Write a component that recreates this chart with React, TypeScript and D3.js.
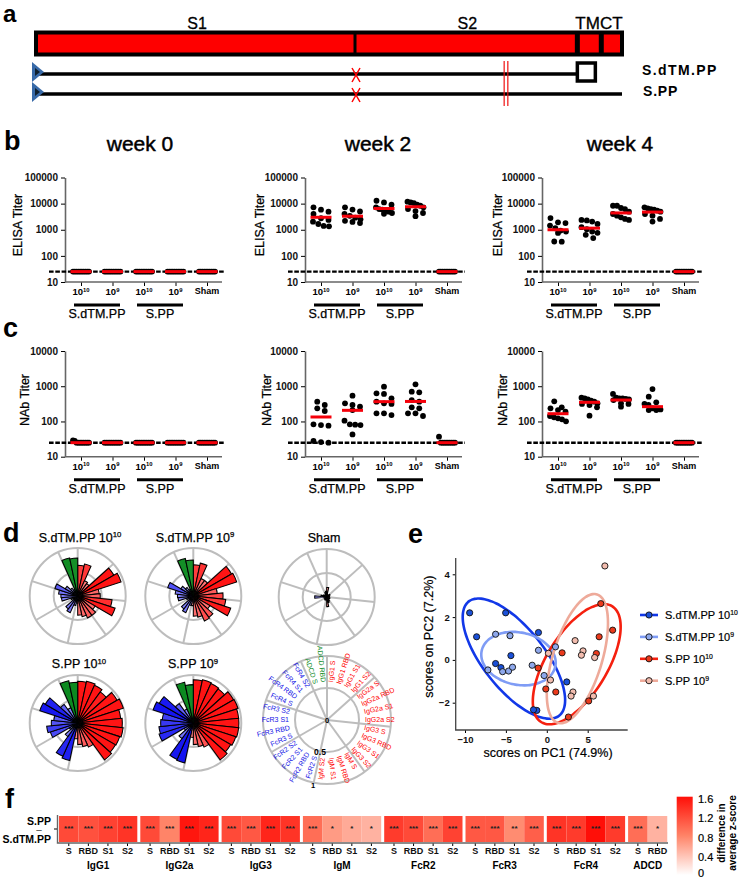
import React, { useEffect, useRef } from "react";
import * as d3 from "d3";

const FONT = "'Liberation Sans', Arial, sans-serif";

// panel a, residues of the spike
const spikeLength = 1273;
const domainBreaks = [693, 1176, 1228];
const ppSites = [1017, 1025];
const spikeLabels = [
  { text: "S1", at: 350 },
  { text: "S2", at: 937 },
  { text: "TMCT", at: 1223 },
];

// panels b, c
const doses = [["10", "10"], ["10", "9"], ["10", "10"], ["10", "9"], ["Sham", ""]];
const atFloor = [25, 25, 25, 25, 25, 25, 25, 25, 25, 25];

const elisaWeek0 = [atFloor, atFloor, atFloor, atFloor, atFloor];
const elisaWeek2 = [
  [7200, 5880, 4900, 4000, 2750, 2370, 2040, 1660, 1400, 1350],
  [7200, 5900, 5000, 4000, 3400, 2900, 2500, 2200, 2000, 1800],
  [12900, 11100, 9100, 7200, 6200, 5900, 5400, 4900, 4370, 4100],
  [11900, 11100, 10500, 9100, 8300, 7200, 6200, 5200, 4370, 3300],
  atFloor,
];
const elisaWeek4 = [
  [2800, 1930, 1800, 1440, 1140, 930, 850, 757, 355, 350],
  [2370, 2270, 2050, 1670, 1250, 1050, 850, 760, 640, 480],
  [8300, 8300, 6800, 6200, 4900, 4000, 3450, 3000, 2600, 2370],
  [7200, 6600, 6200, 5900, 5400, 4900, 4000, 3450, 2600, 2050],
  atFloor,
];
const nabWeek0 = [[29, 28, 25, 25, 25, 25, 25, 25, 25, 25], atFloor, atFloor, atFloor, atFloor];
const nabWeek2 = [
  [365, 293, 236, 198, 83, 79, 76, 28, 26, 25],
  [540, 327, 293, 263, 211, 105, 83, 81, 79, 43],
  [973, 630, 604, 454, 365, 327, 314, 170, 170, 152],
  [1130, 700, 670, 406, 365, 252, 236, 170, 170, 143],
  [37, 25, 25, 25, 25, 25, 25, 25, 25, 25],
];
const nabWeek4 = [
  [372, 252, 236, 211, 190, 143, 131, 123, 115, 101],
  [473, 454, 425, 389, 365, 327, 314, 293, 252, 146],
  [604, 473, 454, 454, 435, 425, 406, 327, 314, 263],
  [833, 506, 349, 314, 293, 236, 225, 220, 211, 211],
  atFloor,
];
const elisaMedians = [
  [25, 25, 25, 25, 25],
  [3000, 3300, 6500, 7600, 25],
  [1000, 1150, 4400, 4750, 25],
];
const nabMedians = [
  [25, 25, 25, 25, 25],
  [134, 207, 365, 370, 25],
  [166, 350, 406, 263, 25],
];
const weeks = ["week 0", "week 2", "week 4"];

// panel d, 30 features clockwise from the top, radius 0..1
const roseDtm10 = [0.64, 0.68, 0.35, 0.32, 0.87, 0.95, 0.45, 0.47, 0.72, 0.82, 0.42, 0.5, 0.5, 0.44, 0.4, 0.15, 0.2, 0.38, 0.33, 0.1, 0.15, 0.34, 0.35, 0.4, 0.5, 0.3, 0.2, 0.15, 0.81, 0.79];
const roseDtm9 = [0.65, 0.7, 0.4, 0.4, 0.92, 0.95, 0.5, 0.62, 0.68, 0.82, 0.4, 0.55, 0.57, 0.45, 0.42, 0.2, 0.2, 0.38, 0.33, 0.1, 0.15, 0.32, 0.33, 0.38, 0.56, 0.3, 0.22, 0.15, 0.8, 0.75];
const roseSham = [0.2, 0.06, 0.05, 0.04, 0.08, 0.05, 0.04, 0.06, 0.05, 0.07, 0.05, 0.06, 0.1, 0.12, 0.2, 0.06, 0.05, 0.07, 0.04, 0.05, 0.04, 0.06, 0.25, 0.12, 0.08, 0.05, 0.05, 0.06, 0.1, 0.12];
const rosePp10 = [0.87, 0.89, 0.86, 0.8, 0.95, 1.0, 0.9, 0.93, 0.95, 0.92, 0.91, 0.95, 0.55, 0.5, 0.45, 0.33, 0.8, 0.76, 0.35, 0.2, 0.6, 0.65, 0.55, 0.5, 0.83, 0.78, 0.48, 0.35, 0.9, 0.85];
const rosePp9 = [0.9, 0.92, 0.9, 0.88, 0.97, 0.98, 0.95, 0.95, 0.95, 0.93, 0.9, 0.95, 0.55, 0.5, 0.45, 0.3, 0.85, 0.83, 0.4, 0.22, 0.75, 0.72, 0.68, 0.65, 0.88, 0.82, 0.5, 0.32, 0.87, 0.8];
const spokeAngles = [0, 48, 96, 144, 192, 240, 288, 336];
const antigens = ["S", "RBD", "S1", "S2"];
const featureGroups = ["IgG1", "IgG2a", "IgG3", "IgM", "FcR2", "FcR3", "FcR4", "ADCD"];
const groupAntigens = (g: string) => (g === "ADCD" ? ["S", "RBD"] : antigens);

// panel e
const pc1 = {
  dtm10: [-9.43, -5.03, -8.58, -1.02, -4.39, -6.26, -5.61, -1.22, -1.63, 2.44],
  dtm9: [-7.2, -6.26, -4.5, -5.4, -4.67, -4.19, -1.79, -1.02, -0.33, 1.06],
  pp10: [6.6, 8.05, 6.4, 6.06, 1.87, -1.06, -0.12, 1.1, 5.12, 2.64],
  pp9: [7.1, 3.46, 4.43, 4.23, 5.85, 0.2, 0.45, 3.2, 2.97, 5.7],
};
const pc2 = {
  dtm10: [2.2, 2.2, 1.08, 1.28, 0.2, -0.17, -0.36, -2.36, -2.33, -1.03],
  dtm9: [-0.47, 1.2, 1.13, -0.55, -0.52, -0.34, -0.25, 0.45, -0.73, 0.61],
  pp10: [2.63, 1.39, 1.08, 0.3, 0.33, -0.38, -1.36, -1.5, -1.92, -2.67],
  pp9: [4.39, 0.9, 0.42, 0.22, 0.11, 0.31, -0.94, -1.5, -1.69, -1.69],
};
const scoreGroups = [
  { key: "dtm10", name: "S.dTM.PP", exp: "10", line: "#1238e8", dot: "#1a50d8", ell: [-4.02, 6.26, 0.06, 2.81, -0.69] },
  { key: "dtm9", name: "S.dTM.PP", exp: "9", line: "#7f9cf5", dot: "#8ea8ec", ell: [-3.46, 4.55, 0.06, 1.25, -0.15] },
  { key: "pp10", name: "S.PP", exp: "10", line: "#f5200f", dot: "#ea3a1c", ell: [3.66, 5.37, -0.2, 2.81, 0.62] },
  { key: "pp9", name: "S.PP", exp: "9", line: "#eeaa9a", dot: "#f2bcae", ell: [3.74, 3.74, 0.06, 3.02, 0.55] },
];

// panel f
const zDiff: Record<string, number[]> = {
  IgG1: [1.2, 1.15, 1.25, 1.35],
  IgG2a: [1.2, 0.8, 1.55, 1.45],
  IgG3: [1.2, 1.1, 1.45, 1.35],
  IgM: [0.95, 0.65, 0.55, 0.5],
  FcR2: [1.3, 1.2, 0.95, 1.25],
  FcR3: [1.1, 1.1, 0.75, 1.05],
  FcR4: [1.35, 1.3, 1.6, 1.3],
  ADCD: [0.95, 0.5],
};
const zStars: Record<string, string[]> = {
  IgG1: ["***", "***", "***", "***"],
  IgG2a: ["***", "***", "***", "***"],
  IgG3: ["***", "***", "***", "***"],
  IgM: ["***", "*", "*", "*"],
  FcR2: ["***", "***", "***", "***"],
  FcR3: ["***", "***", "**", "***"],
  FcR4: ["***", "***", "***", "***"],
  ADCD: ["***", "*"],
};
const zTicks = [0, 0.4, 0.8, 1.2, 1.6];

type Sel = d3.Selection<any, any, any, any>;

function label(parent: Sel, x: number, y: number, text: string, size: number, opts: any = {}) {
  const t = parent
    .append("text")
    .attr("x", x)
    .attr("y", y)
    .attr("font-size", size)
    .attr("font-family", FONT)
    .attr("font-weight", opts.weight || 400)
    .attr("text-anchor", opts.anchor || "start")
    .attr("fill", opts.fill || "#000")
    .text(text);
  if (opts.spacing) t.attr("letter-spacing", opts.spacing);
  if (opts.heavy) t.attr("stroke", opts.fill || "#000").attr("stroke-width", opts.heavy);
  if (opts.rotate !== undefined) t.attr("transform", `rotate(${opts.rotate} ${x} ${y})`);
  return t;
}

function supLabel(parent: Sel, x: number, y: number, base: string, exp: string, size: number, opts: any = {}) {
  const t = label(parent, x, y, "", size, opts);
  t.append("tspan").text(base);
  t.append("tspan").attr("dy", -size * 0.35).attr("font-size", size * 0.62).text(exp);
  return t;
}

// Prism style binned swarm
function swarm(vals: number[], y: (v: number) => number) {
  const sorted = vals.slice().sort((a, b) => b - a);
  const bins: number[][] = [];
  sorted.forEach((v) => {
    const last = bins[bins.length - 1];
    if (last && Math.abs(y(v) - y(last[0])) < 6) last.push(v);
    else bins.push([v]);
  });
  const out: { v: number; dx: number }[] = [];
  bins.forEach((b) => {
    const step = b.length > 1 ? Math.min(7.5, 16 / (b.length - 1)) : 0;
    b.forEach((v, i) => out.push({ v, dx: (i - (b.length - 1) / 2) * step }));
  });
  return out;
}

function titerPlot(svg: Sel, cfg: any) {
  const { x0, top, bottom, ticks, series, medians, yTitle, titleX, titleY, dashL } = cfg;
  const y = d3.scaleLog().domain([10, ticks[ticks.length - 1]]).range([bottom, top]);
  const x = d3.scalePoint<number>().domain([0, 1, 2, 3, 4]).range([x0 + 16, x0 + 142]);
  const g = svg.append("g");

  const yAxis = g
    .append("g")
    .attr("transform", `translate(${x0},0)`)
    .call(d3.axisLeft(y).tickValues(ticks).tickFormat(d3.format("d") as any).tickSize(4).tickSizeOuter(0));
  yAxis.select(".domain").attr("stroke", "#666").attr("stroke-width", 1.6);
  yAxis.selectAll("text").attr("font-family", FONT).attr("font-size", 10).attr("font-weight", 700).attr("fill", "#111");

  const xAxis = g
    .append("g")
    .attr("transform", `translate(0,${bottom})`)
    .call(d3.axisBottom(x).tickSize(4).tickFormat(() => ""));
  xAxis.select(".domain").remove();
  xAxis.selectAll("text").remove();
  g.append("line").attr("x1", x0).attr("x2", x0 + 157).attr("y1", bottom).attr("y2", bottom).attr("stroke", "#666").attr("stroke-width", 1.6);

  doses.forEach((d, i) => {
    if (d[1]) supLabel(g, x(i)!, bottom + 13, d[0], d[1], 9.5, { anchor: "middle", weight: 700 });
    else label(g, x(i)!, bottom + 12, d[0], 9, { anchor: "middle", weight: 700 });
  });

  g.append("line")
    .attr("x1", x0 - dashL)
    .attr("x2", x0 + 160)
    .attr("y1", y(25))
    .attr("y2", y(25))
    .attr("stroke", "#000")
    .attr("stroke-width", 2.4)
    .attr("stroke-dasharray", "4.6 1.7");

  series.forEach((vals: number[], i: number) => {
    g.append("g")
      .selectAll("circle")
      .data(swarm(vals, y))
      .enter()
      .append("circle")
      .attr("cx", (d) => x(i)! + d.dx)
      .attr("cy", (d) => y(d.v))
      .attr("r", 2.9)
      .attr("fill", "#000");
    g.append("line")
      .attr("x1", x(i)! - 10.5)
      .attr("x2", x(i)! + 10.5)
      .attr("y1", y(medians[i]))
      .attr("y2", y(medians[i]))
      .attr("stroke", "#f5000a")
      .attr("stroke-width", 3);
  });

  [[9, 55, "S.dTM.PP"], [72, 118, "S.PP"]].forEach(([a, b, name]: any) => {
    g.append("line").attr("x1", x0 + a).attr("x2", x0 + b).attr("y1", bottom + 23).attr("y2", bottom + 23).attr("stroke", "#000").attr("stroke-width", 3);
    label(g, x0 + (a + b) / 2, bottom + 36, name, 12.5, { anchor: "middle", heavy: 0.25 });
  });

  label(g, titleX, titleY, yTitle, 12.5, { anchor: "middle", rotate: -90, heavy: 0.25 });
}

function rose(svg: Sel, cx: number, cy: number, R: number, values: number[] | null) {
  const g = svg.append("g").attr("transform", `translate(${cx},${cy})`);
  const r = d3.scaleLinear().domain([0, 1]).range([0, R]);
  [0.5, 1].forEach((c) =>
    g.append("circle").attr("r", r(c)).attr("fill", "none").attr("stroke", "#bdbdbd").attr("stroke-width", 2)
  );
  spokeAngles.forEach((a) => {
    const [px, py] = d3.pointRadial((a * Math.PI) / 180, R);
    g.append("line").attr("x2", px).attr("y2", py).attr("stroke", "#bdbdbd").attr("stroke-width", 2);
  });
  if (!values) return g;
  const step = (2 * Math.PI) / values.length;
  const arc = d3.arc<number>();
  const shade = (base: string, pale: string) => d3.scaleLinear<string>().domain([0, 0.85]).range([pale, base]).clamp(true);
  const redShade = shade("#ff1414", "#ffc4c4");
  const blueShade = shade("#1414f0", "#c8c8ff");
  const greenShade = shade("#0c8a20", "#90d090");
  g.selectAll("path.bar")
    .data(values)
    .enter()
    .append("path")
    .attr("class", "bar")
    .attr("d", (d, i) =>
      arc({ innerRadius: 0, outerRadius: r(d), startAngle: i * step, endAngle: (i + 1) * step } as any)
    )
    .attr("fill", (d, i) => (i < 16 ? redShade(d) : i < 28 ? blueShade(d) : greenShade(d)))
    .attr("stroke", "#000")
    .attr("stroke-width", 1.05);
  return g;
}

export default function App() {
  const ref = useRef<SVGSVGElement>(null);

  useEffect(() => {
    const svg = d3.select(ref.current!) as Sel;
    svg.selectAll("*").remove();

    // panel letters
    [["a", 3, 22, 24], ["b", 4, 150, 27], ["c", 3, 337, 27], ["d", 3, 542, 27], ["e", 408, 543, 27], ["f", 5, 808, 27]].forEach(([t, x, y, s]: any) =>
      label(svg, x, y, t, s, { weight: 700 })
    );

    // a
    const aa = d3.scaleLinear().domain([0, spikeLength]).range([36, 622]);
    spikeLabels.forEach((s) => label(svg, aa(s.at), 28.5, s.text, s.text === "TMCT" ? 17 : 16, { anchor: "middle", heavy: 0.3 }));
    svg.append("rect").attr("x", aa(0)).attr("y", 32.5).attr("width", aa(spikeLength) - aa(0)).attr("height", 22).attr("fill", "#fe0000").attr("stroke", "#000").attr("stroke-width", 4);
    domainBreaks.forEach((b, i) =>
      svg.append("line").attr("x1", aa(b)).attr("x2", aa(b)).attr("y1", 32).attr("y2", 55).attr("stroke", "#000").attr("stroke-width", i ? 5 : 3)
    );
    svg.append("line").attr("x1", 38).attr("x2", aa(1176)).attr("y1", 74).attr("y2", 74).attr("stroke", "#000").attr("stroke-width", 3.5);
    svg.append("rect").attr("x", aa(1176)).attr("y", 63).attr("width", 18).attr("height", 18).attr("fill", "#fff").attr("stroke", "#000").attr("stroke-width", 3.5);
    svg.append("line").attr("x1", 38).attr("x2", aa(spikeLength)).attr("y1", 94).attr("y2", 94).attr("stroke", "#000").attr("stroke-width", 3.5);
    [72, 92].forEach((cy) => {
      svg.append("path").attr("d", `M32 ${cy - 10}L44 ${cy}L32 ${cy + 10}Z`).attr("fill", "#386aa8");
      svg.append("path").attr("d", `M35 ${cy - 4}L40 ${cy}L35 ${cy + 4}Z`).attr("fill", "#10202e");
    });
    [75, 95].forEach((cy) => {
      const xc = aa(domainBreaks[0]) + 1;
      svg.append("path").attr("d", `M${xc - 4} ${cy - 7}L${xc + 4} ${cy + 7}M${xc + 4} ${cy - 7}L${xc - 4} ${cy + 7}`).attr("stroke", "#f00").attr("stroke-width", 1.5).attr("fill", "none");
    });
    ppSites.forEach((p) =>
      svg.append("line").attr("x1", aa(p)).attr("x2", aa(p)).attr("y1", 61).attr("y2", 106).attr("stroke", "#f01010").attr("stroke-width", 1.2)
    );
    label(svg, 642, 75, "S.dTM.PP", 14, { weight: 700, spacing: 1.4 });
    label(svg, 643, 96, "S.PP", 14, { weight: 700, spacing: 0.8 });

    // b, c
    const axisXs = [65, 305, 542];
    const weekX = [140, 378, 620];
    const elisa = [elisaWeek0, elisaWeek2, elisaWeek4];
    const nab = [nabWeek0, nabWeek2, nabWeek4];
    const elisaTitleX = [22, 264, 502];
    const nabTitleX = [29, 271, 507];
    const dashLs = [16, 17, 15];
    axisXs.forEach((x0, i) => {
      label(svg, weekX[i], 151, weeks[i], 21, { anchor: "middle", heavy: 0.45 });
      titerPlot(svg, {
        x0, top: 177.5, bottom: 282, ticks: [10, 100, 1000, 10000, 100000],
        series: elisa[i], medians: elisaMedians[i], yTitle: "ELISA Titer",
        titleX: elisaTitleX[i], titleY: 225, dashL: dashLs[i],
      });
      titerPlot(svg, {
        x0, top: 351, bottom: 456.7, ticks: [10, 100, 1000, 10000],
        series: nab[i], medians: nabMedians[i], yTitle: "NAb Titer",
        titleX: nabTitleX[i], titleY: 400, dashL: dashLs[i],
      });
    });

    // d
    supLabel(svg, 80, 541.5, "S.dTM.PP 10", "10", 12.5, { anchor: "middle", heavy: 0.25 });
    supLabel(svg, 195, 541.5, "S.dTM.PP 10", "9", 12.5, { anchor: "middle", heavy: 0.25 });
    label(svg, 324, 541.5, "Sham", 12.5, { anchor: "middle", heavy: 0.25 });
    supLabel(svg, 79, 668, "S.PP 10", "10", 12.5, { anchor: "middle", heavy: 0.25 });
    supLabel(svg, 193, 668, "S.PP 10", "9", 12.5, { anchor: "middle", heavy: 0.25 });
    rose(svg, 77.7, 596, 48, roseDtm10);
    rose(svg, 193.3, 596, 48, roseDtm9);
    rose(svg, 326.7, 597, 48, roseSham);
    rose(svg, 77.7, 723, 48, rosePp10);
    rose(svg, 193.3, 723, 48, rosePp9);
    const key = rose(svg, 327, 720, 64, null);
    const featureNames = featureGroups.flatMap((g) => groupAntigens(g).map((a) => `${g} ${a}`));
    featureNames.forEach((name, i) => {
      const deg = (i + 0.5) * 12;
      const fill = i < 16 ? "#f00" : i < 28 ? "#1414e6" : "#0a8a1e";
      const right = deg < 180;
      key.append("text")
        .attr("transform", right ? `rotate(${deg - 90}) translate(38,2)` : `rotate(${deg + 90}) translate(-38,2)`)
        .attr("text-anchor", right ? "start" : "end")
        .attr("font-size", 7)
        .attr("font-family", FONT)
        .attr("fill", fill)
        .text(name);
    });
    [["0", 0, 2.5, 7.5], ["0.5", -7, 35, 8.5], ["1", -14, 68, 7.5]].forEach(([t, x, y, s]: any) =>
      label(key, x, y, t, s, { anchor: "middle", weight: 700 })
    );

    // e
    const px = d3.scaleLinear().domain([-10, 5]).range([465, 587.7]);
    const py = d3.scaleLinear().domain([-2, 4]).range([702.7, 574.3]);
    const axE = svg.append("g");
    const intFmt = d3.format("d") as any;
    const xE = axE.append("g").attr("transform", "translate(0,730)").call(d3.axisBottom(px).tickValues([-10, -5, 0, 5]).tickFormat(intFmt).tickSize(3));
    const yE = axE.append("g").attr("transform", "translate(455.7,0)").call(d3.axisLeft(py).tickValues([-2, 0, 2, 4]).tickFormat(intFmt).tickSize(3));
    [xE, yE].forEach((a) => {
      a.select(".domain").remove();
      a.selectAll("text").attr("font-family", FONT).attr("font-size", 9.5).attr("font-weight", 700).attr("fill", "#111");
    });
    axE.append("path").attr("d", "M455.7 558V730H627.7").attr("fill", "none").attr("stroke", "#444").attr("stroke-width", 1.3);
    label(svg, 548, 757, "scores on PC1 (74.9%)", 12.5, { anchor: "middle", heavy: 0.2 });
    label(svg, 433, 636.7, "scores on PC2 (7.2%)", 12.5, { anchor: "middle", rotate: -90, heavy: 0.2 });

    const angles = d3.range(0, 2 * Math.PI, Math.PI / 36);
    scoreGroups.forEach((s) => {
      const [cx, a, cy, b, rho] = s.ell;
      const path = d3.line<number>()
        .x((t) => px(cx + a * Math.cos(t)))
        .y((t) => py(cy + b * (rho * Math.cos(t) + Math.sqrt(1 - rho * rho) * Math.sin(t))))
        .curve(d3.curveCardinalClosed)(angles);
      svg.append("path").attr("d", path).attr("fill", "none").attr("stroke", s.line).attr("stroke-width", 2.6);
    });
    scoreGroups.forEach((s) => {
      const xs = (pc1 as any)[s.key] as number[];
      const ys = (pc2 as any)[s.key] as number[];
      svg.append("g")
        .selectAll("circle")
        .data(xs)
        .enter()
        .append("circle")
        .attr("cx", (d) => px(d))
        .attr("cy", (d, i) => py(ys[i]))
        .attr("r", 3.1)
        .attr("fill", s.dot)
        .attr("stroke", "#111")
        .attr("stroke-width", 0.9);
    });
    scoreGroups.forEach((s, i) => {
      const ly = 615 + i * 21.9;
      svg.append("line").attr("x1", 640).attr("x2", 658).attr("y1", ly).attr("y2", ly).attr("stroke", s.line).attr("stroke-width", 2.6);
      svg.append("circle").attr("cx", 649).attr("cy", ly).attr("r", 3.1).attr("fill", s.dot).attr("stroke", "#111").attr("stroke-width", 0.9);
      supLabel(svg, 665, ly + 4, `${s.name} 10`, s.exp, 11, { heavy: 0.2 });
    });

    // f
    const band = d3.scaleBand<string>().domain(featureGroups).range([59, 706.4]).paddingInner(3 / 81.3).paddingOuter(0);
    const heat = d3.scaleLinear<string>().domain([0, 0.8, 1.6]).range(["#ffffff", "#ff8468", "#ff0f08"]);
    const rowTop = 816;
    const rowH = 26;
    featureGroups.forEach((g) => {
      const inner = d3.scaleBand<string>().domain(antigens).range([band(g)!, band(g)! + band.bandwidth()]);
      const gs = svg.append("g");
      gs.selectAll("rect")
        .data(zDiff[g])
        .enter()
        .append("rect")
        .attr("x", (d, i) => inner(antigens[i])!)
        .attr("y", rowTop)
        .attr("width", inner.bandwidth())
        .attr("height", rowH)
        .attr("fill", (d) => heat(d));
      zStars[g].forEach((s, i) =>
        label(gs, inner(antigens[i])! + inner.bandwidth() / 2, rowTop + 15, s, 8, { anchor: "middle", weight: 700, fill: "#222" })
      );
      const ax = gs.append("g")
        .attr("transform", `translate(0,${rowTop + rowH + 1})`)
        .call(d3.axisBottom(inner).tickValues(groupAntigens(g)).tickSize(3));
      ax.select(".domain").remove();
      ax.selectAll("text").attr("font-family", FONT).attr("font-size", 9).attr("font-weight", 700).attr("fill", "#111").attr("dy", "0.55em");
      const mid = g === "ADCD" ? band(g)! + inner.bandwidth() : band(g)! + band.bandwidth() / 2;
      label(gs, mid, 869, g, 10, { anchor: "middle", weight: 700 });
    });
    svg.append("path").attr("d", `M57.5 815V${rowTop + rowH + 1}H668`).attr("fill", "none").attr("stroke", "#666").attr("stroke-width", 1.4);
    svg.append("line").attr("x1", 54).attr("x2", 57).attr("y1", 829).attr("y2", 829).attr("stroke", "#000");
    label(svg, 51, 824.5, "S.PP", 10.5, { anchor: "end", weight: 700 });
    label(svg, 39, 831.5, "\u2014", 5.5, { anchor: "middle", weight: 700 });
    label(svg, 51, 843, "S.dTM.PP", 10.5, { anchor: "end", weight: 700 });

    const defs = svg.append("defs");
    const grad = defs.append("linearGradient").attr("id", "zbar").attr("x1", 0).attr("x2", 0).attr("y1", 1).attr("y2", 0);
    zTicks.forEach((t) => grad.append("stop").attr("offset", t / 1.6).attr("stop-color", heat(t)));
    const zy = d3.scaleLinear().domain([0, 1.6]).range([875, 796.7]);
    svg.append("rect").attr("x", 676.7).attr("y", zy(1.6)).attr("width", 16).attr("height", zy(0) - zy(1.6)).attr("fill", "url(#zbar)");
    [[0, 873], [0.4, 856.7], [0.8, 837.7], [1.2, 818], [1.6, 799]].forEach(([t, y]) =>
      label(svg, 698, y + 4, String(t), 11, { heavy: 0.2 })
    );
    label(svg, 725, 833, "difference in", 10, { anchor: "middle", rotate: -90, weight: 700 });
    label(svg, 736, 833, "average z-score", 10, { anchor: "middle", rotate: -90, weight: 700 });
  }, []);

  return (
    <svg
      ref={ref}
      width={742}
      height={881}
      style={{ position: "absolute", left: 0, top: 0, background: "#fff" }}
    />
  );
}
